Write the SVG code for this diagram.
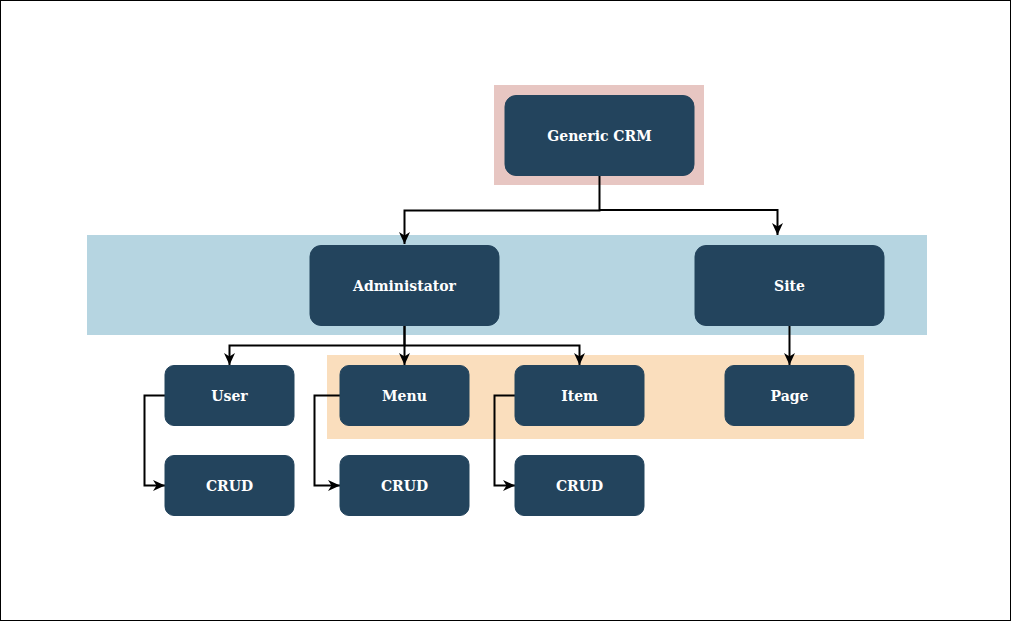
<svg xmlns="http://www.w3.org/2000/svg" width="1011" height="621" viewBox="0 0 1011 621">
<defs>
<style>
.node rect{fill:#23445d;stroke:#23445d;stroke-width:1}
.node text{fill:#ffffff;font-family:"DejaVu Serif",serif;font-weight:bold;font-size:14px;text-anchor:middle;dominant-baseline:central}
.edge{fill:none;stroke:#000;stroke-width:2}
</style>
<marker id="arr" markerUnits="userSpaceOnUse" markerWidth="14" markerHeight="14" viewBox="0 0 14 14" refX="12" refY="7" orient="auto">
<path d="M0,1.5 L12,7 L0,12.5 L3.5,7 z" fill="#000"/>
</marker>
</defs>
<rect x="0.5" y="0.5" width="1010" height="620" fill="#fff" stroke="#000" stroke-width="1"/>
<g id="bands">
<rect x="494" y="85" width="210" height="100" fill="#e7c6c2"/>
<rect x="87" y="235" width="840" height="100" fill="#b6d5e1"/>
<rect x="327" y="355" width="537" height="84" fill="#fadebd"/>
</g>
<g id="connectors">
<path class="edge" d="M599.5,175 V210.5 H404.5 V244" marker-end="url(#arr)"/>
<path class="edge" d="M599.5,210 H777.5 V235" marker-end="url(#arr)"/>
<path class="edge" d="M404.5,325 V345.5 H229.5 V365" marker-end="url(#arr)"/>
<path class="edge" d="M404.5,325 V365" marker-end="url(#arr)"/>
<path class="edge" d="M404.5,345.5 H579.5 V365" marker-end="url(#arr)"/>
<path class="edge" d="M789.5,325 V365" marker-end="url(#arr)"/>
<path class="edge" d="M165,395.5 H144.5 V485.5 H165" marker-end="url(#arr)"/>
<path class="edge" d="M340,395.5 H314.5 V485.5 H340" marker-end="url(#arr)"/>
<path class="edge" d="M515,395.5 H494.5 V485.5 H515" marker-end="url(#arr)"/>
</g>
<g id="generic-crm" class="node"><rect x="505" y="95.5" width="189" height="80" rx="11"/><text x="599.5" y="136">Generic CRM</text></g>
<g id="administator" class="node"><rect x="310" y="245.5" width="189" height="80" rx="11"/><text x="404.5" y="286">Administator</text></g>
<g id="site" class="node"><rect x="695" y="245.5" width="189" height="80" rx="11"/><text x="789.5" y="286">Site</text></g>
<g id="user" class="node"><rect x="165" y="365.5" width="129" height="60" rx="9"/><text x="229.5" y="396">User</text></g>
<g id="menu" class="node"><rect x="340" y="365.5" width="129" height="60" rx="9"/><text x="404.5" y="396">Menu</text></g>
<g id="item" class="node"><rect x="515" y="365.5" width="129" height="60" rx="9"/><text x="579.5" y="396">Item</text></g>
<g id="page" class="node"><rect x="725" y="365.5" width="129" height="60" rx="9"/><text x="789.5" y="396">Page</text></g>
<g id="crud-user" class="node"><rect x="165" y="455.5" width="129" height="60" rx="9"/><text x="229.5" y="486">CRUD</text></g>
<g id="crud-menu" class="node"><rect x="340" y="455.5" width="129" height="60" rx="9"/><text x="404.5" y="486">CRUD</text></g>
<g id="crud-item" class="node"><rect x="515" y="455.5" width="129" height="60" rx="9"/><text x="579.5" y="486">CRUD</text></g>
</svg>
